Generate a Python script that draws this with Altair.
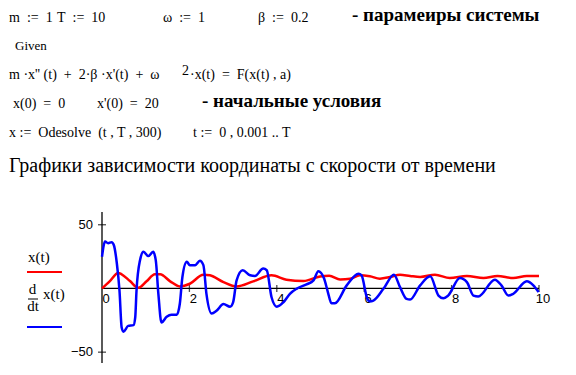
import altair as alt
import pandas as pd

# ---- data ----
x_t = [0, 0.18, 0.37, 0.45, 0.64, 0.83, 1.02, 1.21, 1.33, 1.56, 1.78, 2.01, 2.32, 2.47,
       2.78, 3.08, 3.46, 3.88, 4.22, 4.61, 4.99, 5.2, 5.45, 5.68, 5.9, 6.13, 6.36, 6.59,
       6.82, 7.05, 7.28, 7.62, 7.96, 8.35, 8.73, 9.05, 9.41, 9.72, 10.0]
x_val = [0, 5.8, 12.2, 11.1, 5.8, 0.5, 5.6, 11.1, 11.1, 5.6, 1.6, 3.7, 10.8, 10.3,
         5.0, 1.6, 5.6, 10.3, 6.9, 5.8, 9.4, 10.0, 7.1, 7.7, 10.3, 9.5, 7.7, 9.0,
         10.8, 9.8, 9.0, 10.8, 8.2, 9.8, 8.2, 9.8, 8.2, 9.8, 9.8]

v_t = [0, 0.07, 0.14, 0.22, 0.27, 0.34, 0.40, 0.45, 0.49, 0.60, 0.72, 0.76, 0.79, 0.87,
       0.95, 1.06, 1.17, 1.23, 1.29, 1.36, 1.48, 1.59, 1.71, 1.78, 1.84, 1.94, 2.01, 2.13,
       2.24, 2.32, 2.39, 2.51, 2.62, 2.78, 2.93, 3.00, 3.08, 3.22, 3.39, 3.50, 3.69, 3.77,
       3.88, 4.00, 4.15, 4.30, 4.45, 4.68, 4.84, 4.95, 5.08, 5.17, 5.25, 5.33, 5.60, 5.87,
       5.94, 6.06, 6.13, 6.21, 6.44, 6.68, 6.82, 6.97, 7.05, 7.28, 7.51, 7.70, 7.81, 7.92,
       8.19, 8.35, 8.50, 8.61, 8.99, 9.14, 9.30, 9.41, 9.72, 9.87, 9.99]
v_val = [24.9, 36.8, 35.5, 36.3, 34.1, 19.6, -1.6, -30.7, -33.9, -29.4, -28.8, -22.8, -1.6, 22.2,
         28.8, 25.4, 28.8, 22.2, -4.2, -26.7, -22.2, -20.6, -20.6, -12.2, 9.0, 20.9, 18.3, 18.3,
         21.7, 18.3, -4.2, -19.6, -17.5, -12.2, -14.3, -10.9, 6.3, 14.3, 10.3, 9.8, 15.6, 14.3,
         -6.9, -14.3, -10.9, -4.2, -0.3, 3.2, 6.3, 13.5, 8.0, -3.0, -11.6, -11.6, 2.4, 11.6,
         10.3, -6.9, -10.1, -9.5, -0.3, 10.8, 1.0, -8.2, -8.7, 2.4, 9.5, -5.6, -7.7, -5.6,
         8.2, 5.0, -5.6, -6.3, 6.9, 2.4, -5.6, -4.2, 5.6, 2.4, -2.9]

x_ticks = [0, 2, 4, 6, 8, 10]
x_tick_labels = ["0", "2", "4", "6", "8", "10"]
y_ticks = [50, -50]
y_tick_labels = ["50", "−50"]

x_domain = [0, 10]
y_domain = [-58.5, 60]

SERIF = "Liberation Serif"
SANS = "Liberation Sans"
NB = "\u00a0"

# the whole picture is the view; the plot occupies a sub-range of it
xs = alt.Scale(domain=x_domain, range=[94, 531], nice=False, zero=False)
ys = alt.Scale(domain=y_domain, range=[355, 204], nice=False, zero=False)

df_x = pd.DataFrame({"t": x_t, "v": x_val})
df_v = pd.DataFrame({"t": v_t, "v": v_val})


def X(field="t"):
    return alt.X(field, type="quantitative", scale=xs, axis=None)


def Y(field="v"):
    return alt.Y(field, type="quantitative", scale=ys, axis=None)


x_axis = alt.Chart(pd.DataFrame({"t": [x_domain[0]], "t2": [x_domain[1]], "v": [0]})).mark_rule(
    color="black", strokeWidth=1.3).encode(x=X(), x2="t2:Q", y=Y())
y_axis = alt.Chart(pd.DataFrame({"t": [0], "v": [y_domain[0]], "v2": [y_domain[1]]})).mark_rule(
    color="black", strokeWidth=1.3).encode(x=X(), y=Y(), y2="v2:Q")

xt_df = pd.DataFrame({"t": x_ticks[1:], "v": [0] * (len(x_ticks) - 1)})
x_tick_marks = alt.Chart(xt_df).mark_tick(orient="vertical", size=7, thickness=1.3,
                                          color="black").encode(x=X(), y=Y())
yt_df = pd.DataFrame({"t": [0] * len(y_ticks), "v": y_ticks})
y_tick_marks = alt.Chart(yt_df).mark_tick(orient="horizontal", size=8, thickness=1.3,
                                          color="black").encode(x=X(), y=Y())

xl_df = pd.DataFrame({"t": x_ticks, "v": [0] * len(x_ticks), "lab": x_tick_labels})
x_labels = alt.Chart(xl_df).mark_text(font=SANS, fontSize=13, align="center", baseline="top",
                                      dx=4, dy=5, fill="black").encode(x=X(), y=Y(), text="lab:N")
yl_df = pd.DataFrame({"t": [0] * len(y_ticks), "v": y_ticks, "lab": y_tick_labels})
y_labels = alt.Chart(yl_df).mark_text(font=SANS, fontSize=13, align="right", baseline="middle",
                                      dx=-9, fill="black").encode(x=X(), y=Y(), text="lab:N")

red = alt.Chart(df_x).mark_line(color="#ff0000", strokeWidth=2.5, interpolate="monotone").encode(
    x=X(), y=Y())
blue = alt.Chart(df_v).mark_line(color="#0000ff", strokeWidth=2.5, interpolate="monotone").encode(
    x=X(), y=Y())


def txt(s, x, y, size=14, bold=False, align="left", font=SERIF):
    kw = dict(text=s.replace("  ", NB + NB), font=font, fontSize=size, align=align,
              baseline="alphabetic")
    if bold:
        kw["fontWeight"] = "bold"
    return alt.Chart(pd.DataFrame({"a": [0]})).mark_text(**kw).encode(
        x=alt.value(x), y=alt.value(y))


def hline(x1, x2, y, color, w=2):
    return alt.Chart(pd.DataFrame({"a": [0]})).mark_rule(color=color, strokeWidth=w).encode(
        x=alt.value(x1), x2=alt.value(x2), y=alt.value(y))


texts = [
    txt("m  :=  1", 1, 14),
    txt("T  :=  10", 49, 14),
    txt("ω  :=  1", 155, 14),
    txt("β  :=  0.2", 250, 14),
    txt("- парамеиры системы", 344, 13, size=19, bold=True),
    txt("Given", 7, 42, size=13),
    txt("m ·x'' (t)  +  2·β ·x'(t)  +  ω", 1, 71),
    txt("2", 174, 67),
    txt("·x(t)  =  F(x(t) , a)", 182, 71),
    txt("x(0)  =  0", 5, 100),
    txt("x'(0)  =  20", 89, 100),
    txt("- начальные условия", 194, 99, size=19, bold=True),
    txt("x :=  Odesolve  (t , T , 300)", 1, 129),
    txt("t :=  0 , 0.001 .. T", 185, 129),
    txt("Графики зависимости координаты с скорости от времени", 1, 164, size=20),
    # legend
    txt("x(t)", 20, 254, size=15),
    txt("d", 24.5, 286, size=15, align="center"),
    txt("dt", 25, 303, size=15, align="center"),
    txt("x(t)", 35, 291, size=15),
]
legend_lines = [
    hline(19, 54, 264, "#ff0000", 2),
    hline(20, 30, 291, "black", 1),
    hline(19, 54, 319, "#0000ff", 2),
]

chart = alt.layer(
    *texts, x_axis, y_axis, x_tick_marks, y_tick_marks, x_labels, y_labels, red, blue,
    *legend_lines
).properties(
    width=560, height=359,
    autosize=alt.AutoSizeParams(type="none"),
    padding=0,
).configure_view(stroke=None)

chart.save("out.html", embed_options={"renderer": "svg", "actions": False})
